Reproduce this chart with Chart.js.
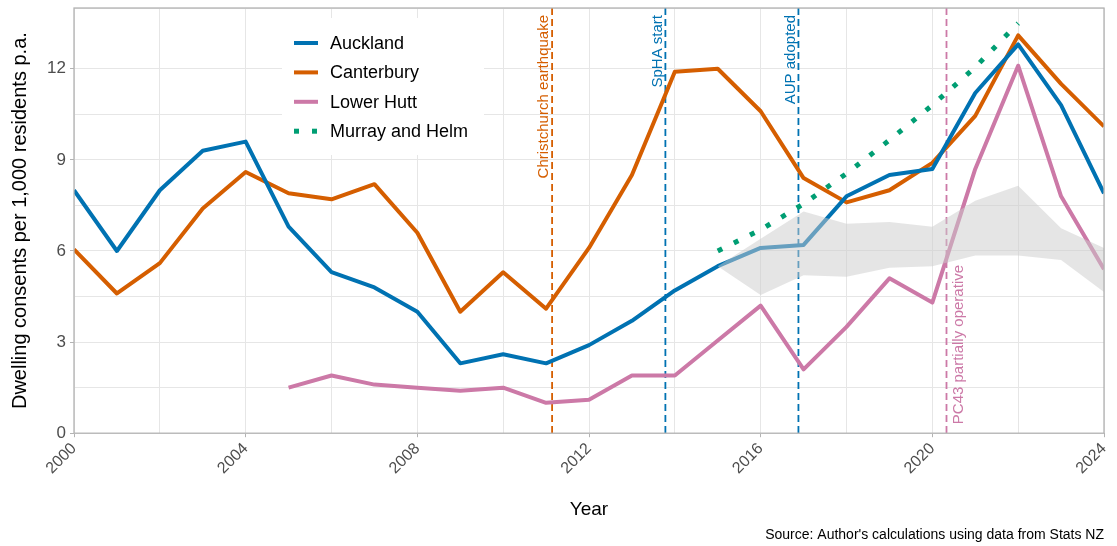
<!DOCTYPE html>
<html lang="en">
  <head>
    <meta charset="UTF-8" />
    <title>Dwelling consents per 1,000 residents</title>
    <script src="https://cdn.jsdelivr.net/npm/chart.js"></script>
    <style>
      html,
      body {
        margin: 0;
        padding: 0;
        background: #ffffff;
      }
      #wrap {
        width: 1117px;
        height: 546px;
      }
    </style>
  </head>
  <body>
    <div id="wrap">
      <canvas id="consentsChart" width="1117" height="546"></canvas>
    </div>

    <script>
      // Data
      const years = [
        2000, 2001, 2002, 2003, 2004, 2005, 2006, 2007, 2008, 2009, 2010, 2011,
        2012, 2013, 2014, 2015, 2016, 2017, 2018, 2019, 2020, 2021, 2022, 2023,
        2024,
      ];
      const auckland = [
        8.0, 6.0, 8.0, 9.3, 9.6, 6.8, 5.3, 4.8, 4.0, 2.3, 2.6, 2.3, 2.9, 3.7,
        4.7, 5.5, 6.1, 6.2, 7.8, 8.5, 8.7, 11.2, 12.8, 10.8, 7.9,
      ];
      const canterbury = [
        6.05, 4.6, 5.6, 7.4, 8.6, 7.9, 7.7, 8.2, 6.6, 4.0, 5.3, 4.1, 6.1, 8.5,
        11.9, 12.0, 10.6, 8.4, 7.6, 8.0, 8.9, 10.45, 13.1, 11.5, 10.1,
      ];
      const lowerHutt = [
        null, null, null, null, null, 1.5, 1.9, 1.6, 1.5, 1.4, 1.5, 1.0, 1.1,
        1.9, 1.9, 3.05, 4.2, 2.1, 3.5, 5.1, 4.3, 8.7, 12.1, 7.8, 5.4,
      ];
      const murrayYears = [2015, 2016, 2017, 2018, 2019, 2020, 2021, 2022];
      const murrayHelm = [6.0, 6.7, 7.55, 8.55, 9.65, 10.8, 12.05, 13.5];

      const bandYears = [
        2015, 2016, 2017, 2018, 2019, 2020, 2021, 2022, 2023, 2024,
      ];
      const bandUpper = [5.5, 6.4, 7.3, 6.9, 6.95, 6.8, 7.65, 8.15, 6.75, 6.1];
      const bandLower = [5.5, 4.55, 5.2, 5.15, 5.45, 5.5, 5.85, 5.85, 5.7, 4.65];

      const eventLabels = [
        "Christchurch earthquake",
        "SpHA start",
        "AUP adopted",
        "PC43 partially operative",
      ];
      const eventYears = [2011.14, 2013.78, 2016.88, 2020.33];

      // Styles
      const FONT = "'Liberation Sans', Arial, sans-serif";
      const BLUE = "#0072B2";
      const ORANGE = "#D55E00";
      const PINK = "#CC79A7";
      const GREEN = "#009E73";
      const eventStyles = [
        { color: ORANGE, side: "top" },
        { color: BLUE, side: "top" },
        { color: BLUE, side: "top" },
        { color: PINK, side: "bottom" },
      ];

      Chart.defaults.font.family = FONT;

      const toPoints = (xs, ys) => xs.map((x, i) => ({ x: x, y: ys[i] }));

      // Dashed event lines with rotated labels
      const eventPlugin = {
        id: "events",
        beforeDatasetsDraw(chart) {
          const { ctx, chartArea, scales } = chart;
          eventYears.forEach((yr, i) => {
            const px = scales.x.getPixelForValue(yr);
            const st = eventStyles[i];
            ctx.save();
            ctx.strokeStyle = st.color;
            ctx.lineWidth = 1.8;
            ctx.setLineDash([7, 4]);
            ctx.beginPath();
            ctx.moveTo(px, chartArea.top);
            ctx.lineTo(px, chartArea.bottom);
            ctx.stroke();
            ctx.setLineDash([]);
            ctx.font = "15px " + FONT;
            ctx.fillStyle = st.color;
            ctx.textBaseline = "middle";
            if (st.side === "top") {
              ctx.translate(px - 8, chartArea.top + 7);
              ctx.rotate(-Math.PI / 2);
              ctx.textAlign = "right";
            } else {
              ctx.translate(px + 12, chartArea.bottom - 9);
              ctx.rotate(-Math.PI / 2);
              ctx.textAlign = "left";
            }
            ctx.fillText(eventLabels[i], 0, 0);
            ctx.restore();
          });
        },
        afterDatasetsDraw(chart) {
          // panel border
          const { ctx, chartArea } = chart;
          ctx.save();
          ctx.strokeStyle = "#b3b3b3";
          ctx.lineWidth = 1.3;
          ctx.strokeRect(
            chartArea.left,
            chartArea.top,
            chartArea.right - chartArea.left,
            chartArea.bottom - chartArea.top
          );
          ctx.restore();
        },
      };

      // Legend box inside the panel
      const legendPlugin = {
        id: "boxLegend",
        afterDraw(chart) {
          const ctx = chart.ctx;
          const items = chart.data.datasets.filter((d) => d.inLegend);
          ctx.save();
          ctx.fillStyle = "#ffffff";
          ctx.fillRect(282, 18, 202, 137);
          items.forEach((d, i) => {
            const y = 43 + i * 29.4;
            if (d.borderDash && d.borderDash.length) {
              ctx.fillStyle = d.borderColor;
              ctx.fillRect(294, y - 2.5, 5, 5);
              ctx.fillRect(312, y - 2.5, 5, 5);
            } else {
              ctx.strokeStyle = d.borderColor;
              ctx.lineWidth = 4;
              ctx.beginPath();
              ctx.moveTo(294, y);
              ctx.lineTo(318, y);
              ctx.stroke();
            }
            ctx.fillStyle = "#000000";
            ctx.font = "18px " + FONT;
            ctx.textAlign = "left";
            ctx.textBaseline = "middle";
            ctx.fillText(d.label, 330, y + 1);
          });
          ctx.restore();
        },
      };

      const lineStyle = {
        pointRadius: 0,
        borderWidth: 4,
        tension: 0,
        fill: false,
        spanGaps: false,
        borderJoinStyle: "round",
        order: 1,
      };

      new Chart(document.getElementById("consentsChart").getContext("2d"), {
        type: "line",
        data: {
          datasets: [
            Object.assign({}, lineStyle, {
              label: "Auckland",
              data: toPoints(years, auckland),
              borderColor: BLUE,
              inLegend: true,
            }),
            Object.assign({}, lineStyle, {
              label: "Canterbury",
              data: toPoints(years, canterbury),
              borderColor: ORANGE,
              inLegend: true,
            }),
            Object.assign({}, lineStyle, {
              label: "Lower Hutt",
              data: toPoints(years, lowerHutt),
              borderColor: PINK,
              inLegend: true,
            }),
            Object.assign({}, lineStyle, {
              label: "Murray and Helm",
              data: toPoints(murrayYears, murrayHelm),
              borderColor: GREEN,
              borderWidth: 5,
              borderDash: [5, 13],
              borderCapStyle: "butt",
              inLegend: true,
            }),
            {
              label: "band upper",
              data: toPoints(bandYears, bandUpper),
              borderWidth: 0,
              borderColor: "rgba(0,0,0,0)",
              pointRadius: 0,
              backgroundColor: "rgba(204,204,204,0.5)",
              fill: "+1",
              order: 0,
            },
            {
              label: "band lower",
              data: toPoints(bandYears, bandLower),
              borderWidth: 0,
              borderColor: "rgba(0,0,0,0)",
              pointRadius: 0,
              fill: false,
              order: 0,
            },
          ],
        },
        options: {
          responsive: false,
          animation: false,
          layout: { padding: { top: 8, right: 13, left: 0, bottom: 0 } },
          plugins: {
            legend: { display: false },
            tooltip: { enabled: false },
            title: {
              display: true,
              position: "bottom",
              align: "end",
              text: "Source: Author's calculations using data from Stats NZ",
              color: "#000000",
              font: { size: 14, weight: "normal" },
              padding: { top: 4, bottom: 2 },
            },
          },
          scales: {
            x: {
              type: "linear",
              min: 2000,
              max: 2024,
              afterFit: (s) => {
                s.height = 90;
                s.paddingLeft = 0;
                s.paddingRight = 0;
              },
              ticks: {
                stepSize: 2,
                autoSkip: false,
                maxRotation: 45,
                minRotation: 45,
                color: "#4d4d4d",
                font: { size: 16 },
                padding: 2,
                callback: (v) => (v % 4 === 0 ? String(v) : ""),
              },
              grid: {
                color: "#e6e6e6",
                lineWidth: 1,
                tickLength: 4,
                tickColor: (c) =>
                  c.tick && c.tick.value % 4 === 0 ? "#b3b3b3" : "rgba(0,0,0,0)",
              },
              border: { display: false },
              title: {
                display: true,
                text: "Year",
                color: "#000000",
                font: { size: 19 },
                padding: { top: 0, bottom: 2 },
              },
            },
            y: {
              min: 0,
              max: 14,
              afterFit: (s) => {
                s.width = 74;
                s.paddingTop = 0;
                s.paddingBottom = 0;
              },
              ticks: {
                stepSize: 1.5,
                color: "#4d4d4d",
                font: { size: 17 },
                padding: 4,
                callback: (v) => (Math.abs(v % 3) < 1e-6 ? String(v) : ""),
              },
              grid: {
                color: "#e6e6e6",
                lineWidth: 1,
                tickLength: 4,
                tickColor: (c) =>
                  c.tick && Math.abs(c.tick.value % 3) < 1e-6
                    ? "#b3b3b3"
                    : "rgba(0,0,0,0)",
              },
              border: { display: false },
              title: {
                display: true,
                text: "Dwelling consents per 1,000 residents p.a.",
                color: "#000000",
                font: { size: 20 },
                padding: { top: 8, bottom: 0 },
              },
            },
          },
        },
        plugins: [eventPlugin, legendPlugin],
      });
    </script>
  </body>
</html>
